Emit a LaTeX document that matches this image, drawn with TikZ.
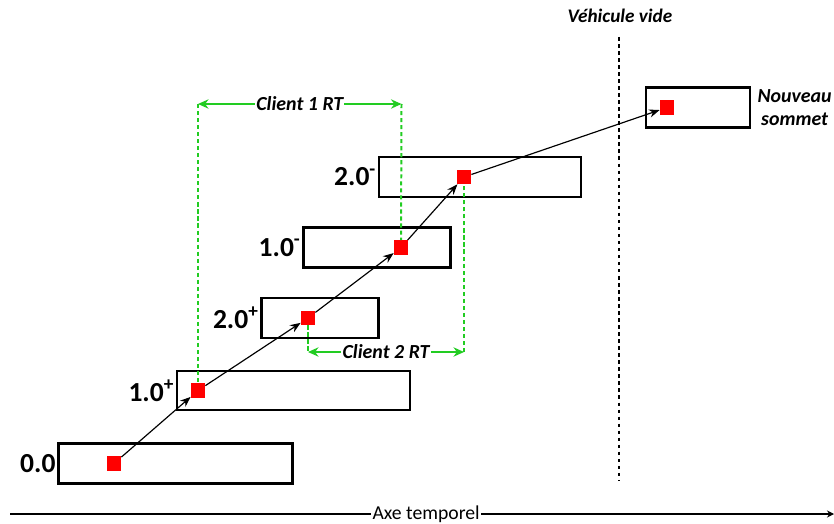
\documentclass[tikz,border=0pt]{standalone}
\usepackage{fontspec}
\setmainfont{Carlito}
\usetikzlibrary{arrows.meta,positioning}
\definecolor{sqred}{HTML}{FF0000}
\definecolor{rtgreen}{HTML}{22CC22}
\tikzset{
  blk/.style={rectangle,draw=black,fill=white,line width=1.8pt,inner sep=0pt},
  sq/.style={rectangle,fill=sqred,minimum size=4.3mm,inner sep=0pt},
  lbl/.style={font=\fontsize{23.5}{26}\selectfont\bfseries,inner sep=1pt},
  tlbl/.style={font=\fontsize{17}{20}\selectfont\bfseries\itshape,align=center},
  arr/.style={-{Stealth[length=9pt,width=7pt]},line width=1pt,color=black},
  garr/.style={{Stealth[length=9pt,width=8pt]}-{Stealth[length=9pt,width=8pt]},
               line width=1.4pt,color=rtgreen},
  gdash/.style={line width=1.7pt,color=rtgreen,dash pattern=on 3.5pt off 2.5pt},
}
\begin{document}
\begin{tikzpicture}[x=0.3mm,y=-0.3mm]
  \useasboundingbox (0,0) rectangle (834,524);

  % time axis
  \coordinate (ax0) at (10,514);
  \coordinate (ax1) at (834,514);
  \draw[line width=2pt,-{Stealth[length=6pt,width=6pt]}] (ax0) -- (ax1)
    node[pos=0.505,fill=white,inner sep=1pt,font=\fontsize{16.8}{19}\selectfont] {Axe temporel};

  % empty vehicle line
  \node[tlbl,font=\fontsize{16.4}{19}\selectfont\bfseries\itshape] (vv) at (620,16) {Véhicule vide};
  \coordinate (vtop) at (619,37);
  \coordinate (vbot) at (619,480);
  \draw[line width=1.6pt,dash pattern=on 3pt off 3pt] (vtop) -- (vbot);

  % boxes
  \node[blk,minimum width=234*0.3mm,minimum height=40*0.3mm] (b00) at (175.5,463.5) {};
  \node[blk,minimum width=233*0.3mm,minimum height=39*0.3mm] (b10p) at (293.5,390.5) {};
  \node[blk,minimum width=117*0.3mm,minimum height=40*0.3mm] (b20p) at (320,318) {};
  \node[blk,minimum width=147*0.3mm,minimum height=40*0.3mm] (b10m) at (377,247.5) {};
  \node[blk,minimum width=202*0.3mm,minimum height=40*0.3mm] (b20m) at (480,177) {};
  \node[blk,minimum width=104*0.3mm,minimum height=40*0.3mm] (bnew) at (698,107.5) {};

  % labels
  \node[lbl,left=0.5pt of b00] {0.0};
  \node[lbl,left=0.5pt of b10p] {1.0\textsuperscript{+}};
  \node[lbl,left=0.5pt of b20p] {2.0\textsuperscript{+}};
  \node[lbl,left=0.5pt of b10m] {1.0\textsuperscript{-}};
  \node[lbl,left=0.5pt of b20m] {2.0\textsuperscript{-}};
  \node[tlbl,right=2pt of bnew] {Nouveau\\sommet};

  % vertices
  \node[sq] (s00) at (114,463.5) {};
  \node[sq] (s10p) at (198,390.5) {};
  \node[sq] (s20p) at (308,318) {};
  \node[sq] (s10m) at (401,247.5) {};
  \node[sq] (s20m) at (464,177) {};
  \node[sq] (snew) at (667,107.5) {};

  % client ride times
  \coordinate (c1l) at (198,104);
  \coordinate (c1r) at (401.5,104);
  \coordinate (c2l) at (308,352);
  \coordinate (c2r) at (464,352);
  \draw[gdash] (c1l) -- (s10p);
  \draw[gdash] (c1r) -- (s10m);
  \draw[gdash] (s20p) -- (c2l);
  \draw[gdash] (c2r) -- (s20m);
  \draw[garr] (c1l) -- (c1r) node[midway,fill=white,inner sep=1pt,tlbl,text=black] {Client 1 RT};
  \draw[garr] (c2l) -- (c2r) node[midway,fill=white,inner sep=1pt,tlbl,text=black] {Client 2 RT};

  % path
  \draw[arr] (s00) -- (s10p);
  \draw[arr] (s10p) -- (s20p);
  \draw[arr] (s20p) -- (s10m);
  \draw[arr] (s10m) -- (s20m);
  \draw[arr] (s20m) -- (snew);
\end{tikzpicture}
\end{document}
